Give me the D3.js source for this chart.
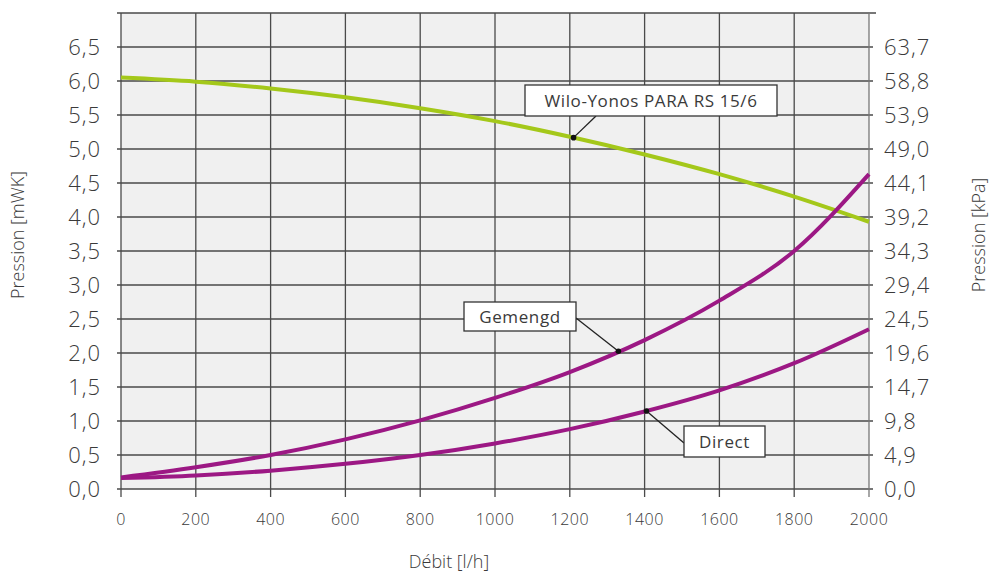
<!DOCTYPE html>
<html><head><meta charset="utf-8">
<script src="https://cdn.jsdelivr.net/npm/d3@7"></script>
<style>
body{margin:0;background:#fff;}
text{font-family:"Open Sans","Lato",sans-serif;font-weight:300;fill:#3a3a3a;}
</style></head>
<body><svg id="c" width="990" height="573"></svg>
<script>
const flow = [0,200,400,600,800,1000,1200,1400,1600,1800,2000];
const wilo = [6.05,5.99,5.89,5.76,5.60,5.41,5.18,4.92,4.63,4.30,3.93];
const gemengd = [0.17,0.32,0.50,0.73,1.01,1.34,1.72,2.19,2.77,3.50,4.63];
const direct = [0.16,0.20,0.27,0.37,0.50,0.67,0.88,1.14,1.45,1.85,2.35];
const yTicks = [0,0.5,1,1.5,2,2.5,3,3.5,4,4.5,5,5.5,6,6.5];
const yTickLabels = ["0,0","0,5","1,0","1,5","2,0","2,5","3,0","3,5","4,0","4,5","5,0","5,5","6,0","6,5"];
const kpaLabels = ["0,0","4,9","9,8","14,7","19,6","24,5","29,4","34,3","39,2","44,1","49,0","53,9","58,8","63,7"];
const xTicks = [0,200,400,600,800,1000,1200,1400,1600,1800,2000];
const seriesNames = ["Wilo-Yonos PARA RS 15/6","Gemengd","Direct"];
const annotFlow = [1210,1330,1405];

const svg = d3.select("#c");
const x = d3.scaleLinear().domain([0,2000]).range([121,869]);
const y = d3.scaleLinear().domain([0,7]).range([489,13]);
const grid = "#4a4a4a";

svg.append("rect").attr("x",x(0)).attr("y",y(7)).attr("width",x(2000)-x(0)).attr("height",y(0)-y(7)).attr("fill","#f0f0f0");

svg.append("g").selectAll("line").data(yTicks).join("line")
  .attr("x1",x(0)-4).attr("x2",x(2000)+4)
  .attr("y1",d=>y(d)).attr("y2",d=>y(d))
  .attr("stroke",grid).attr("stroke-width",1.3);
svg.append("line").attr("x1",x(0)-4).attr("x2",x(2000)+7).attr("y1",y(7)).attr("y2",y(7))
  .attr("stroke",grid).attr("stroke-width",1.3);
svg.append("g").selectAll("line").data(xTicks).join("line")
  .attr("x1",d=>x(d)).attr("x2",d=>x(d))
  .attr("y1",y(7)).attr("y2",y(0)+8)
  .attr("stroke",d=>d===2000?"#777":grid).attr("stroke-width",1.3);

svg.append("g").selectAll("text").data(yTicks).join("text")
  .attr("x",101).attr("y",d=>y(d)).attr("dy","0.36em").attr("text-anchor","end")
  .attr("font-size",22).attr("letter-spacing",1).text((d,i)=>yTickLabels[i]);
svg.append("g").selectAll("text").data(yTicks).join("text")
  .attr("x",884).attr("y",d=>y(d)).attr("dy","0.36em").attr("text-anchor","start")
  .attr("font-size",22).attr("letter-spacing",1).text((d,i)=>kpaLabels[i]);
svg.append("g").selectAll("text").data(xTicks).join("text")
  .attr("x",d=>x(d)).attr("y",525).attr("text-anchor","middle")
  .attr("font-size",16).attr("letter-spacing",0.5).text(d=>d);

svg.append("text").attr("transform","translate(24,235) rotate(-90)").attr("text-anchor","middle")
  .attr("font-size",18).text("Pression [mWK]");
svg.append("text").attr("transform","translate(985,235) rotate(-90)").attr("text-anchor","middle")
  .attr("font-size",18).text("Pression [kPa]");
svg.append("text").attr("x",449).attr("y",568).attr("text-anchor","middle")
  .attr("font-size",18).text("Débit [l/h]");

const line = d3.line().x((d,i)=>x(flow[i])).y(d=>y(d)).curve(d3.curveMonotoneX);
const colors = ["#a4c81a","#9c1884","#9c1884"];
[wilo,gemengd,direct].forEach((s,k)=>{
  svg.append("path").attr("d",line(s)).attr("fill","none")
    .attr("stroke",colors[k]).attr("stroke-width",4);
});

function interp(arr,f){
  const i=Math.min(Math.floor(f/200),9); const t=(f-flow[i])/200;
  return arr[i]+(arr[i+1]-arr[i])*t;
}
const boxes = [
  {s:wilo, bx:525, by:85, bw:252, bh:31, lx:596, ly:116},
  {s:gemengd, bx:464, by:302, bw:112, bh:29, lx:576, ly:318},
  {s:direct, bx:684, by:426, bw:81, bh:31, lx:684, ly:443}
];
boxes.forEach((b,k)=>{
  const px=x(annotFlow[k]), py=y(interp(b.s,annotFlow[k]));
  svg.append("line").attr("x1",b.lx).attr("y1",b.ly).attr("x2",px).attr("y2",py)
    .attr("stroke","#222").attr("stroke-width",1.3);
  svg.append("circle").attr("cx",px).attr("cy",py).attr("r",2.8).attr("fill","#111");
  svg.append("rect").attr("x",b.bx).attr("y",b.by).attr("width",b.bw).attr("height",b.bh)
    .attr("fill","#fff").attr("stroke","#333").attr("stroke-width",1.3);
  svg.append("text").attr("x",b.bx+b.bw/2).attr("y",b.by+b.bh/2).attr("dy","0.36em")
    .attr("text-anchor","middle").attr("font-size",17).attr("letter-spacing",0.6)
    .style("font-weight",400).text(seriesNames[k]);
});
</script></body></html>
